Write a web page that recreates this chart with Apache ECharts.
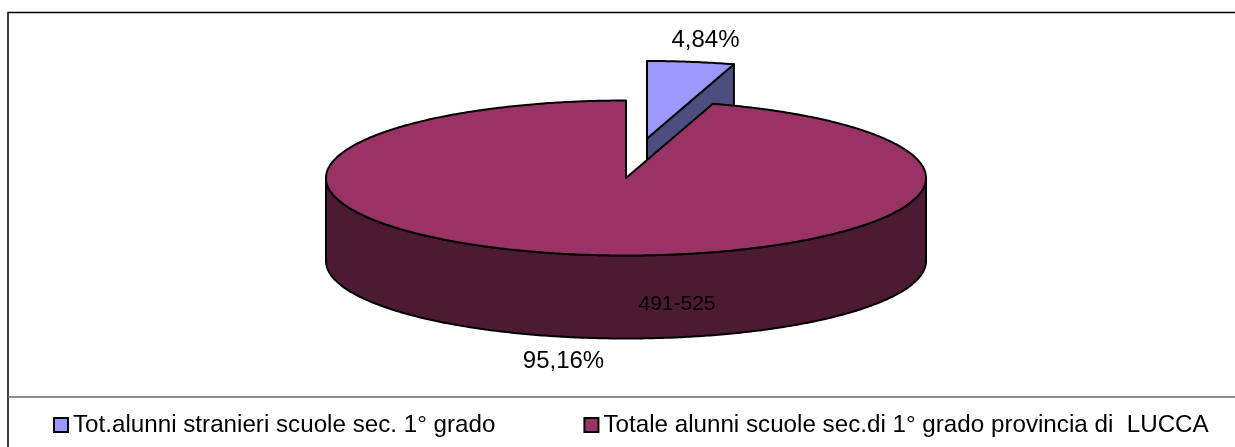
<!DOCTYPE html>
<html>
<head>
<meta charset="utf-8">
<style>html,body{margin:0;padding:0;background:#fff}#c{width:1235px;height:447px}</style>
<script src="https://cdn.jsdelivr.net/npm/echarts@6/dist/echarts.min.js"></script>
</head>
<body>
<div id="c"></div>
<script>
const categories = ['Tot.alunni stranieri scuole sec. 1° grado', 'Totale alunni scuole sec.di 1° grado provincia di  LUCCA'];
const shares = [4.84, 95.16];
const shareLabels = ['4,84%', '95,16%'];
const rangeLabel = '491-525';
const topColors = ['#9999ff', '#993366'];
const sideColors = ['#4d4d80', '#4d1a33'];

const FONT = '"Liberation Sans", Arial, sans-serif';
const CX = 626, CY = 178, RX = 300, RY = 77.5, DEPTH = 83;
const EXPLODE = [[21, -39.5], [0, 0]];
const total = shares.reduce((a, b) => a + b, 0);
const startFrac = i => shares.slice(0, i).reduce((a, b) => a + b, 0) / total;

function pt(angle, off, drop) {
  const theta = angle - 0.018 * Math.sin(2 * angle);
  return [CX + off[0] + RX * Math.sin(theta), CY + off[1] + drop - RY * Math.cos(theta)];
}
function arc(a0, a1, off, drop) {
  const n = Math.max(2, Math.ceil(Math.abs(a1 - a0) / 0.01));
  const out = [];
  for (let k = 0; k <= n; k++) out.push(pt(a0 + (a1 - a0) * k / n, off, drop));
  return out;
}
const lineStyle = (fill) => ({ fill, stroke: '#000', lineWidth: 2, lineJoin: 'round' });

function renderSlice(i) {
  return function (params, api) {
    const a0 = startFrac(i) * 2 * Math.PI;
    const a1 = a0 + shares[i] / total * 2 * Math.PI;
    const off = EXPLODE[i];
    const tip = [CX + off[0], CY + off[1]];
    const children = [];
    if (i === 0) {
      const e = pt(a1, off, 0), b = pt(a1, off, DEPTH);
      children.push({ type: 'polygon', shape: { points: [tip, e, b, [tip[0], tip[1] + DEPTH]] }, style: lineStyle(sideColors[i]) });
    } else {
      const from = Math.PI / 2, to = 1.5 * Math.PI;
      const pts = arc(from, to, off, 0).concat(arc(to, from, off, DEPTH));
      children.push({ type: 'polygon', shape: { points: pts }, style: lineStyle(sideColors[i]) });
    }
    children.push({ type: 'polygon', shape: { points: [tip].concat(arc(a0, a1, off, 0)) }, style: lineStyle(topColors[i]) });
    return { type: 'group', children };
  };
}

const chart = echarts.init(document.getElementById('c'), null, { renderer: 'canvas' });
chart.setOption({
  animation: false,
  backgroundColor: '#fff',
  legend: {
    data: categories,
    left: 53, top: 413,
    itemWidth: 14, itemHeight: 14, itemGap: 88,
    icon: 'rect',
    padding: 0,
    itemStyle: { borderColor: '#000', borderWidth: 2 },
    textStyle: { fontFamily: FONT, fontSize: 24.2, color: '#000' }
  },
  series: categories.map((name, i) => ({
    type: 'custom',
    name,
    coordinateSystem: 'none',
    itemStyle: { color: topColors[i] },
    data: [shares[i]],
    renderItem: renderSlice(i),
    silent: true
  })),
  graphic: [
    { type: 'polyline', silent: true, shape: { points: [[8, 447], [8, 12.5], [1235, 12.5]] }, style: { stroke: '#000', lineWidth: 1.5, fill: null } },
    { type: 'line', silent: true, shape: { x1: 8, y1: 397, x2: 1235, y2: 397 }, style: { stroke: '#666', lineWidth: 1.5 } },
    { type: 'text', silent: true, z: 10, style: { x: 705.5, y: 40, text: shareLabels[0], font: '24px ' + FONT, fill: '#000', textAlign: 'center', textVerticalAlign: 'middle' } },
    { type: 'text', silent: true, z: 10, style: { x: 563.5, y: 361, text: shareLabels[1], font: '24px ' + FONT, fill: '#000', textAlign: 'center', textVerticalAlign: 'middle' } },
    { type: 'text', silent: true, z: 10, style: { x: 677, y: 304, text: rangeLabel, font: '21px ' + FONT, fill: '#000', textAlign: 'center', textVerticalAlign: 'middle' } }
  ]
});
</script>
</body>
</html>
